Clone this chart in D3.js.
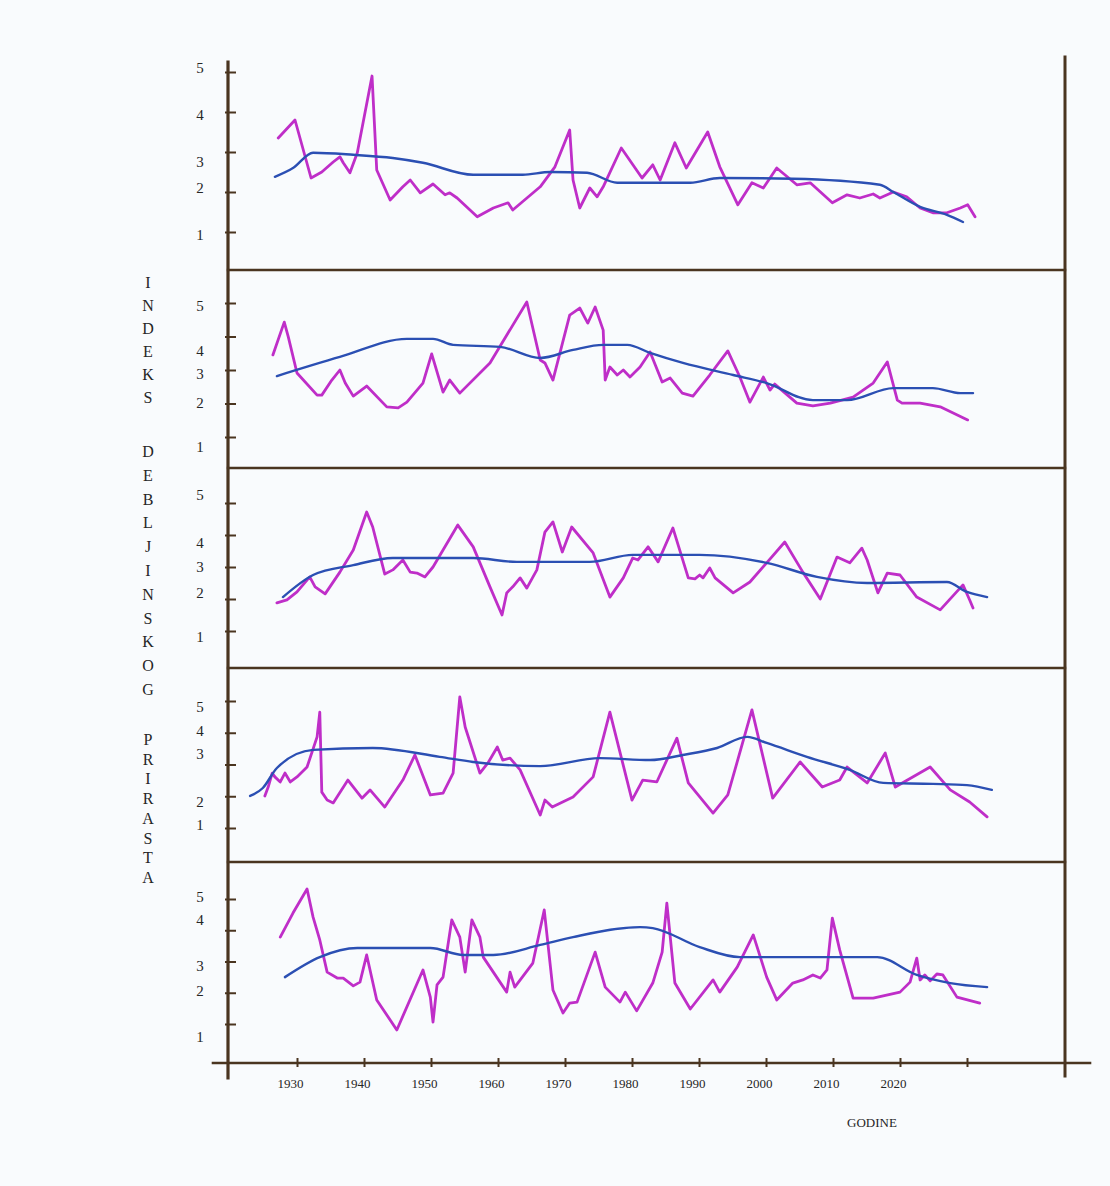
<!DOCTYPE html>
<html>
<head>
<meta charset="utf-8">
<script src="https://cdn.jsdelivr.net/npm/d3@7"></script>
<style>
  html, body { margin: 0; padding: 0; background: #f9fbfd; }
  svg { display: block; }
  text { font-family: "Liberation Serif", "DejaVu Serif", serif; fill: #262626; }
</style>
</head>
<body>
<svg id="chart" width="1110" height="1186"></svg>
<script>
// ---------------- DATA ----------------
const xTickValues = [1930, 1940, 1950, 1960, 1970, 1980, 1990, 2000, 2010, 2020, 2030];
const xTickLabels = [1930, 1940, 1950, 1960, 1970, 1980, 1990, 2000, 2010, 2020];
const yTickValues = [1, 2, 3, 4, 5];
const yTitleWords = ["INDEKS", "DEBLJINSKOG", "PRIRASTA"];
const xTitle = "GODINE";

// Panel 1
const p1Years = [1927.2,1929.7,1932.1,1933.7,1935.4,1936.4,1936.9,1937.9,1939.0,1941.2,1941.9,1943.9,1945.8,1946.9,1948.4,1950.3,1952.1,1952.8,1953.9,1956.9,1959.3,1961.5,1962.2,1966.3,1968.5,1970.7,1971.2,1972.2,1973.7,1974.8,1975.7,1978.4,1981.5,1983.1,1984.2,1986.4,1988.1,1991.3,1993.1,1995.8,1997.9,1999.6,2001.6,2004.6,2006.6,2009.9,2012.1,2014.0,2016.0,2017.0,2019.0,2021.0,2023.0,2024.9,2027.0,2029.0,2030.1,2031.2];
const p1Index = [3.35,3.8,2.35,2.5,2.75,2.88,2.73,2.48,2.98,4.9,2.55,1.8,2.13,2.3,1.98,2.2,1.93,1.98,1.85,1.38,1.6,1.73,1.55,2.13,2.63,3.55,2.3,1.6,2.1,1.88,2.13,3.1,2.35,2.68,2.3,3.23,2.6,3.5,2.63,1.68,2.23,2.1,2.6,2.18,2.23,1.73,1.93,1.85,1.95,1.85,2.0,1.88,1.6,1.48,1.48,1.6,1.68,1.38];
const p1TrendYears = [1926.7,1929.4,1932.4,1938.4,1944.3,1948.8,1956.3,1963.7,1967.8,1973.3,1977.8,1984.2,1988.7,1993.1,2004.0,2017.0,2019.0,2023.0,2027.0,2029.4];
const p1Trend = [2.38,2.6,2.98,2.93,2.85,2.73,2.43,2.43,2.5,2.48,2.23,2.23,2.23,2.35,2.33,2.18,2.0,1.63,1.43,1.25];

// Panel 2
const p2Years = [1926.4,1928.1,1928.7,1930.0,1933.0,1933.7,1935.2,1936.4,1937.2,1938.4,1940.4,1943.4,1945.1,1946.4,1948.8,1950.1,1951.8,1952.8,1954.3,1958.8,1964.3,1966.3,1967.0,1968.2,1970.7,1972.2,1973.4,1974.5,1975.7,1976.0,1976.7,1977.8,1978.7,1979.7,1981.2,1982.7,1984.5,1985.7,1987.5,1989.1,1991.6,1994.3,1996.1,1997.6,1999.6,2000.6,2001.3,2004.6,2007.0,2009.6,2013.0,2016.0,2018.1,2019.6,2020.3,2023.0,2026.0,2030.1];
const p2Index = [3.45,4.43,3.99,2.91,2.25,2.25,2.7,3.0,2.61,2.22,2.52,1.9,1.87,2.04,2.61,3.48,2.34,2.7,2.31,3.21,5.03,3.3,3.21,2.7,4.64,4.85,4.4,4.88,4.19,2.7,3.09,2.85,3.0,2.79,3.09,3.54,2.64,2.76,2.31,2.22,2.85,3.57,2.79,2.04,2.79,2.4,2.58,2.01,1.93,2.01,2.19,2.61,3.24,2.1,2.01,2.01,1.9,1.51];
const p2TrendYears = [1927.0,1936.4,1946.4,1950.3,1953.3,1960.3,1966.3,1971.2,1975.7,1979.3,1982.7,1987.6,1995.1,2000.1,2007.0,2012.1,2019.0,2024.9,2029.0,2030.9];
const p2Trend = [2.82,3.39,3.93,3.93,3.75,3.69,3.36,3.6,3.75,3.75,3.51,3.21,2.85,2.61,2.1,2.1,2.46,2.46,2.31,2.31];

// Panel 3
const p3Years = [1927.0,1928.5,1930.0,1931.9,1932.7,1934.2,1936.4,1938.4,1940.4,1941.3,1943.1,1944.3,1945.8,1946.9,1947.9,1949.1,1950.3,1954.0,1956.3,1958.8,1960.6,1961.3,1962.2,1963.3,1964.3,1965.8,1967.0,1968.2,1969.6,1971.0,1974.2,1976.7,1978.7,1980.1,1980.9,1982.4,1983.9,1986.1,1988.4,1989.4,1990.1,1990.6,1991.6,1992.4,1995.1,1997.6,2000.1,2002.8,2005.5,2008.1,2010.6,2012.5,2014.3,2015.1,2016.7,2018.1,2020.0,2022.5,2026.0,2029.4,2030.4,2030.9];
const p3Index = [1.88,1.97,2.22,2.69,2.38,2.16,2.84,3.53,4.72,4.25,2.78,2.91,3.22,2.84,2.81,2.69,3.0,4.31,3.63,2.38,1.5,2.19,2.38,2.66,2.34,2.91,4.09,4.41,3.47,4.25,3.44,2.06,2.66,3.28,3.22,3.63,3.16,4.22,2.66,2.63,2.75,2.66,2.97,2.66,2.19,2.53,3.13,3.78,2.84,2.0,3.31,3.13,3.59,3.22,2.19,2.81,2.75,2.06,1.66,2.44,1.97,1.72];
const p3TrendYears = [1927.9,1932.4,1938.4,1944.3,1956.3,1962.8,1973.7,1980.1,1990.1,2000.1,2007.6,2015.1,2027.0,2030.0,2033.0];
const p3Trend = [2.06,2.75,3.06,3.28,3.28,3.16,3.16,3.38,3.38,3.13,2.69,2.5,2.53,2.22,2.06];

// Panel 4
const p4Years = [1925.2,1925.7,1926.3,1926.7,1927.5,1928.2,1929.0,1930.0,1931.5,1933.0,1933.4,1933.7,1934.5,1935.4,1937.6,1939.7,1940.9,1943.1,1945.8,1947.6,1949.9,1951.8,1953.3,1954.3,1955.1,1957.3,1958.5,1959.9,1960.7,1961.8,1963.3,1966.3,1967.0,1968.1,1971.2,1974.2,1976.7,1980.0,1981.6,1983.7,1986.7,1988.4,1992.1,1994.3,1997.9,2001.0,2005.1,2008.4,2011.0,2012.1,2015.1,2017.8,2019.3,2024.5,2027.5,2030.4,2033.0];
const p4Index = [2.01,2.29,2.73,2.61,2.45,2.73,2.45,2.61,2.92,3.87,4.65,2.13,1.88,1.79,2.51,1.94,2.2,1.66,2.51,3.3,2.04,2.1,2.73,5.13,4.18,2.73,3.05,3.55,3.14,3.2,2.83,1.41,1.88,1.66,1.98,2.61,4.65,1.88,2.51,2.45,3.83,2.42,1.47,2.04,4.72,1.94,3.08,2.29,2.51,2.92,2.42,3.36,2.29,2.92,2.2,1.82,1.35];
const p4TrendYears = [1923.0,1924.9,1927.0,1932.4,1941.3,1951.3,1956.3,1966.3,1975.2,1982.7,1987.6,1992.7,1997.2,2000.1,2006.1,2012.5,2017.5,2024.9,2030.0,2033.7];
const p4Trend = [2.01,2.26,2.89,3.46,3.52,3.24,3.08,2.95,3.2,3.14,3.3,3.52,3.87,3.68,3.24,2.83,2.42,2.39,2.35,2.2];

// Panel 5
const p5Years = [1927.5,1929.4,1931.5,1932.4,1933.4,1934.5,1936.0,1936.9,1938.4,1939.4,1940.4,1941.9,1944.9,1948.8,1949.9,1950.3,1950.9,1951.8,1953.1,1954.3,1955.1,1956.1,1957.3,1957.8,1961.3,1961.8,1962.5,1965.2,1966.9,1968.2,1969.7,1970.7,1971.8,1974.5,1976.0,1978.2,1979.0,1980.7,1983.1,1984.5,1985.2,1986.4,1988.7,1992.1,1993.1,1995.7,1998.1,2000.1,2001.6,2004.0,2005.5,2007.0,2008.1,2009.1,2009.9,2011.0,2013.0,2016.0,2020.0,2021.5,2022.5,2023.0,2023.7,2024.5,2025.5,2026.4,2028.5,2031.9];
const p5Index = [3.78,4.55,5.32,4.42,3.69,2.66,2.47,2.47,2.22,2.34,3.21,1.77,0.81,2.73,1.86,1.06,2.25,2.5,4.33,3.78,2.66,4.33,3.78,3.14,2.02,2.66,2.18,2.95,4.65,2.09,1.35,1.67,1.7,3.3,2.18,1.7,2.02,1.42,2.31,3.3,4.87,2.31,1.48,2.41,2.02,2.82,3.85,2.5,1.77,2.31,2.41,2.57,2.47,2.73,4.39,3.37,1.83,1.83,2.02,2.34,3.11,2.41,2.57,2.38,2.6,2.57,1.86,1.67];
const p5TrendYears = [1928.2,1933.4,1939.0,1949.9,1954.8,1959.3,1966.3,1971.2,1981.2,1983.1,1990.1,1996.1,2010.0,2016.6,2022.5,2027.5,2033.0];
const p5Trend = [2.5,3.14,3.43,3.43,3.21,3.21,3.53,3.78,4.1,4.07,3.46,3.14,3.14,3.14,2.57,2.31,2.18];

// ---------------- LAYOUT ----------------
const W = 1110, H = 1186;
const axisLeftX = 228, axisRightX = 1065;
const bottomAxisY = 1063;
const separatorsY = [270, 468, 668, 862];
// y-pixel of tick 1 and tick 5 for each panel (hand-drawn, uneven)
const panelTickRange = [[232, 72], [437, 303], [631, 503], [828, 701], [1024, 899]];
// per-panel label shifts of the hand-lettered tick numbers (for values 1..5)
const labelShift = [
  [3, -4, 10, 3, -4],
  [10, -1, 4, 14, 3],
  [6, -6, 0, 8, -8],
  [-3, 5, -11, -2, 6],
  [13, -2, 4, -11, -2]
];
const titleLayout = [
  { y0: 283, step: 23 },
  { y0: 452, step: 23.8 },
  { y0: 740, step: 19.7 }
];
const colorAxis = "#4a3520";
const colorIndex = "#bf2ec8";
const colorTrend = "#2b4fb3";

const svg = d3.select("#chart");
svg.append("rect").attr("width", W).attr("height", H).attr("fill", "#f9fbfd");

const x = d3.scaleLinear().domain([1930, 2030]).range([297, 967]);

const panels = [
  { years: p1Years, idx: p1Index, tYears: p1TrendYears, trend: p1Trend },
  { years: p2Years, idx: p2Index, tYears: p2TrendYears, trend: p2Trend },
  { years: p3Years, idx: p3Index, tYears: p3TrendYears, trend: p3Trend },
  { years: p4Years, idx: p4Index, tYears: p4TrendYears, trend: p4Trend },
  { years: p5Years, idx: p5Index, tYears: p5TrendYears, trend: p5Trend }
];

const gLines = svg.append("g");
const gFrame = svg.append("g");

panels.forEach((p, i) => {
  const y = d3.scaleLinear().domain([1, 5]).range(panelTickRange[i]);

  const idxData = p.years.map((yr, k) => [yr, p.idx[k]]);
  const trendData = p.tYears.map((yr, k) => [yr, p.trend[k]]);

  gLines.append("path")
    .datum(idxData)
    .attr("fill", "none")
    .attr("stroke", colorIndex)
    .attr("stroke-width", 2.8)
    .attr("stroke-linejoin", "round")
    .attr("stroke-linecap", "round")
    .attr("d", d3.line().x(d => x(d[0])).y(d => y(d[1])).curve(d3.curveLinear));

  gLines.append("path")
    .datum(trendData)
    .attr("fill", "none")
    .attr("stroke", colorTrend)
    .attr("stroke-width", 2.4)
    .attr("stroke-linecap", "round")
    .attr("d", d3.line().x(d => x(d[0])).y(d => y(d[1])).curve(d3.curveMonotoneX));

  // Y axis ticks + labels
  const ax = d3.axisLeft(y).tickValues(yTickValues).tickFormat(d3.format("d")).tickSize(0).tickPadding(0);
  const g = gFrame.append("g").attr("transform", `translate(${axisLeftX},0)`).call(ax);
  g.select(".domain").remove();
  g.selectAll(".tick text")
    .attr("x", -28)
    .attr("dy", (d, k) => (0.32 * 15 + labelShift[i][k]) + "px")
    .attr("text-anchor", "middle")
    .style("font-family", "'Liberation Serif', serif")
    .style("font-size", "15px")
    .attr("fill", "#262626");
  g.selectAll(".tick").append("line")
    .attr("x1", -3).attr("x2", 8)
    .attr("stroke", colorAxis).attr("stroke-width", 2);
});

// frame lines
const frame = [
  [axisLeftX, 62, axisLeftX, 1078, 3.2],
  [axisRightX, 57, axisRightX, 1076, 3],
  [213, bottomAxisY, 1090, bottomAxisY, 2.6]
];
separatorsY.forEach(sy => frame.push([axisLeftX, sy, axisRightX, sy, 2.4]));
gFrame.selectAll("line.frame").data(frame).enter().append("line")
  .attr("class", "frame")
  .attr("x1", d => d[0]).attr("y1", d => d[1]).attr("x2", d => d[2]).attr("y2", d => d[3])
  .attr("stroke", colorAxis).attr("stroke-width", d => d[4]).attr("stroke-linecap", "square");

// X axis
const xa = d3.axisBottom(x).tickValues(xTickValues).tickSize(0).tickFormat(d => xTickLabels.includes(d) ? d : "");
const gx = gFrame.append("g").attr("transform", `translate(0,${bottomAxisY})`).call(xa);
gx.select(".domain").remove();
gx.selectAll(".tick line").remove();
gx.selectAll(".tick").append("line")
  .attr("y1", -5).attr("y2", 4)
  .attr("stroke", colorAxis).attr("stroke-width", 2);
gx.selectAll(".tick text")
  .attr("dx", "-7px")
  .attr("y", 16)
  .style("font-family", "'Liberation Serif', serif")
  .style("font-size", "13px")
  .attr("fill", "#262626");

svg.append("text")
  .attr("x", 872).attr("y", 1127)
  .attr("text-anchor", "middle")
  .style("font-size", "13px")
  .text(xTitle);

// Vertical stacked Y title
yTitleWords.forEach((w, wi) => {
  svg.append("g").selectAll("text")
    .data(w.split(""))
    .enter().append("text")
    .attr("x", 148)
    .attr("y", (c, k) => titleLayout[wi].y0 + k * titleLayout[wi].step + 5)
    .attr("text-anchor", "middle")
    .style("font-size", "16px")
    .text(c => c);
});
</script>
</body>
</html>
